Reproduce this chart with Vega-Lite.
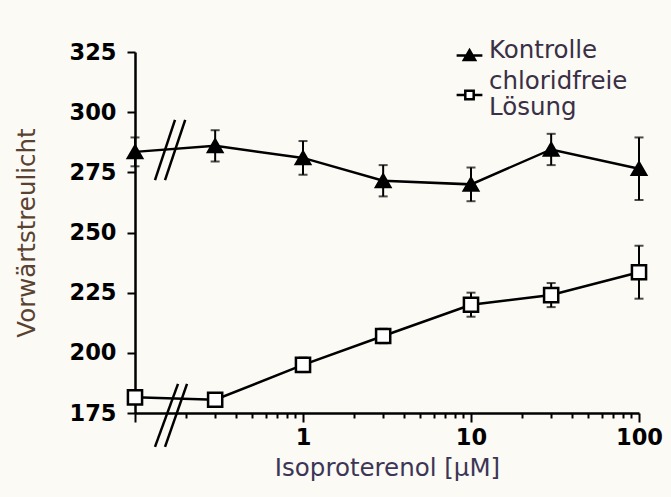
{
  "$schema": "https://vega.github.io/schema/vega-lite/v6.json",
  "width": 504,
  "height": 361,
  "autosize": {"type": "none"},
  "padding": {"left": 135, "top": 52, "right": 32, "bottom": 84},
  "background": "#fbfaf5",
  "config": {"view": {"stroke": null}, "font": "DejaVu Sans"},
  "datasets": {
    "series": [
      {"group": "Kontrolle", "conc": 0.1, "mean": 283.5, "sem": 6},
      {"group": "Kontrolle", "conc": 0.3, "mean": 286, "sem": 6.5},
      {"group": "Kontrolle", "conc": 1, "mean": 281, "sem": 7},
      {"group": "Kontrolle", "conc": 3, "mean": 271.5, "sem": 6.5},
      {"group": "Kontrolle", "conc": 10, "mean": 270, "sem": 7},
      {"group": "Kontrolle", "conc": 30, "mean": 284.5, "sem": 6.5},
      {"group": "Kontrolle", "conc": 100, "mean": 276.5, "sem": 13},
      {"group": "chloridfreie Lösung", "conc": 0.1, "mean": 181.5, "sem": 2},
      {"group": "chloridfreie Lösung", "conc": 0.3, "mean": 180.5, "sem": 2},
      {"group": "chloridfreie Lösung", "conc": 1, "mean": 195, "sem": 3},
      {"group": "chloridfreie Lösung", "conc": 3, "mean": 207, "sem": 3},
      {"group": "chloridfreie Lösung", "conc": 10, "mean": 220, "sem": 5},
      {"group": "chloridfreie Lösung", "conc": 30, "mean": 224, "sem": 5},
      {"group": "chloridfreie Lösung", "conc": 100, "mean": 233.5, "sem": 11}
    ],
    "breaks": [
      {"conc": 0.1315, "conc2": 0.173, "mean": 271.8, "mean2": 296.8},
      {"conc": 0.1509, "conc2": 0.199, "mean": 271.8, "mean2": 296.8},
      {"conc": 0.1315, "conc2": 0.1803, "mean": 160.9, "mean2": 187.1},
      {"conc": 0.1509, "conc2": 0.204, "mean": 160.9, "mean2": 187.1}
    ]
  },
  "layer": [
    {
      "data": {"name": "series"},
      "mark": {"type": "line", "color": "black", "strokeWidth": 2.5},
      "encoding": {
        "x": {
          "field": "conc",
          "type": "quantitative",
          "scale": {"type": "log", "domain": [0.1, 100], "nice": false},
          "axis": {
            "title": "Isoproterenol [µM]",
            "titleFont": "DejaVu Sans",
            "titleFontSize": 24.5,
            "titleFontWeight": "normal",
            "titleColor": "#3d3555",
            "titlePadding": 8,
            "values": [0.1, 0.2, 0.3, 0.4, 0.5, 0.6, 0.7, 0.8, 0.9, 1, 2, 3, 4, 5, 6, 7, 8, 9, 10, 20, 30, 40, 50, 60, 70, 80, 90, 100],
            "labelExpr": "datum.value == 1 ? '1' : datum.value == 10 ? '10' : datum.value == 100 ? '100' : ''",
            "labelFont": "DejaVu Sans",
            "labelFontSize": 22.5,
            "labelFontWeight": "bold",
            "labelColor": "black",
            "labelPadding": 4,
            "labelFlush": false,
            "labelOverlap": false,
            "tickSize": {"condition": {"test": "datum.value == 0.1 || datum.value == 1 || datum.value == 10 || datum.value == 100", "value": 9}, "value": 5},
            "tickWidth": 2,
            "tickColor": "black",
            "domainColor": "black",
            "domainWidth": 2.5,
            "grid": false
          }
        },
        "y": {
          "field": "mean",
          "type": "quantitative",
          "scale": {"domain": [175, 325], "nice": false, "zero": false},
          "axis": {
            "title": "Vorwärtstreulicht",
            "titleFont": "DejaVu Sans",
            "titleFontSize": 24.5,
            "titleFontWeight": "normal",
            "titleColor": "#5a4232",
            "titlePadding": 30,
            "values": [175, 200, 225, 250, 275, 300, 325],
            "labelFont": "DejaVu Sans",
            "labelFontSize": 22.5,
            "labelFontWeight": "bold",
            "labelColor": "black",
            "labelPadding": 11,
            "tickSize": 8,
            "tickWidth": 2,
            "tickColor": "black",
            "domainColor": "black",
            "domainWidth": 2.5,
            "grid": false
          }
        },
        "detail": {"field": "group"}
      }
    },
    {
      "data": {"name": "series"},
      "mark": {"type": "errorbar", "color": "black", "ticks": {"size": 9, "thickness": 2}, "rule": {"strokeWidth": 2}},
      "encoding": {
        "x": {"field": "conc", "type": "quantitative", "title": "Isoproterenol [µM]"},
        "y": {"field": "mean", "type": "quantitative", "title": "Vorwärtstreulicht"},
        "yError": {"field": "sem"},
        "detail": {"field": "group"}
      }
    },
    {
      "data": {"name": "series"},
      "mark": {"type": "point", "filled": true, "size": 200, "stroke": "black", "strokeWidth": 2.5, "opacity": 1},
      "encoding": {
        "x": {"field": "conc", "type": "quantitative", "title": "Isoproterenol [µM]"},
        "y": {"field": "mean", "type": "quantitative", "title": "Vorwärtstreulicht"},
        "fill": {"condition": {"test": "datum.group == 'Kontrolle'", "value": "black"}, "value": "white"},
        "shape": {"condition": {"test": "datum.group == 'Kontrolle'", "value": "triangle-up"}, "value": "square"}
      }
    },
    {
      "data": {"name": "breaks"},
      "mark": {"type": "rule", "color": "black", "strokeWidth": 2.5},
      "encoding": {
        "x": {"field": "conc", "type": "quantitative", "title": "Isoproterenol [µM]"},
        "x2": {"field": "conc2"},
        "y": {"field": "mean", "type": "quantitative", "title": "Vorwärtstreulicht"},
        "y2": {"field": "mean2"}
      }
    },
    {
      "data": {"name": "series"},
      "mark": {"type": "point", "filled": true, "opacity": 0, "strokeWidth": 2.5},
      "encoding": {
        "x": {"field": "conc", "type": "quantitative", "title": "Isoproterenol [µM]"},
        "y": {"field": "mean", "type": "quantitative", "title": "Vorwärtstreulicht"},
        "fill": {
          "field": "group",
          "type": "nominal",
          "scale": {"domain": ["Kontrolle", "chloridfreie Lösung"], "range": ["black", "white"]}
        },
        "stroke": {
          "field": "group",
          "type": "nominal",
          "scale": {"domain": ["Kontrolle", "chloridfreie Lösung"], "range": ["black", "black"]}
        },
        "shape": {
          "field": "group",
          "type": "nominal",
          "scale": {
            "domain": ["Kontrolle", "chloridfreie Lösung"],
            "range": [
              "M-0.92,0.36H0.92M0,-0.02L0.4,0.68L-0.4,0.68Z",
              "M-0.92,0.96H-0.3M0.3,0.96H0.92M-0.3,0.66H0.3V1.26H-0.3Z"
            ]
          },
          "legend": {
            "orient": "none",
            "legendX": 319,
            "legendY": -17,
            "title": null,
            "symbolSize": 784,
            "symbolStrokeWidth": 2.5,
            "symbolOpacity": 1,
            "labelFont": "DejaVu Sans",
            "labelFontSize": 24.5,
            "labelColor": "#3a3045",
            "labelOffset": 4,
            "labelLimit": 300,
            "rowPadding": -1,
            "labelExpr": "datum.value == 'chloridfreie Lösung' ? ['chloridfreie', 'Lösung'] : datum.value"
          }
        }
      }
    }
  ]
}
